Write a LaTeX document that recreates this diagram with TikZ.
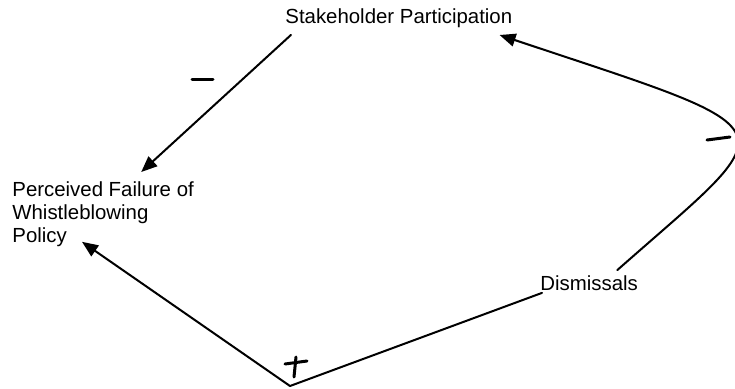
\documentclass[tikz,border=0pt]{standalone}
\usepackage{fontspec}
\setmainfont{Liberation Sans}
\usetikzlibrary{arrows.meta,calc}
\begin{document}
\begin{tikzpicture}[x=0.5pt,y=0.5pt,line cap=round,line join=round,
  var/.style={inner sep=0pt,font=\fontsize{10.2}{11.5}\selectfont},
  link/.style={line width=1pt,-{Triangle[length=8pt,width=6.5pt]}},
  sign/.style={line width=1.5pt}]
  \useasboundingbox (0,0) rectangle (735,388);
  \node[var,anchor=west] (stake) at (285,370) {Stakeholder Participation};
  \node[var,anchor=north west,align=left] (fail) at (12,207) {Perceived Failure of\\Whistleblowing\\Policy};
  \node[var,anchor=west] (dism) at (540,105) {Dismissals};
  \coordinate (low) at (290,2);
  \draw[link] ($(stake.south west)+(6,-7)$) -- ($(fail.north east)+(-53,9)$);
  \draw[link] ($(dism.north east)+(-21,5)$) .. controls +(170,150) and +(300,-100) .. ($(stake.east)+(-13,-17)$);
  \draw[link] ($(dism.south west)+(2,-2)$) -- (low) -- ($(fail.south west)+(70,5)$);
  \draw[sign] (192,309) -- (213,309);
  \draw[sign] (707,248) -- (730,251);
  \draw[sign] (285,24) -- (307,27);
  \draw[sign] (296,31) -- (294,11);
\end{tikzpicture}
\end{document}
